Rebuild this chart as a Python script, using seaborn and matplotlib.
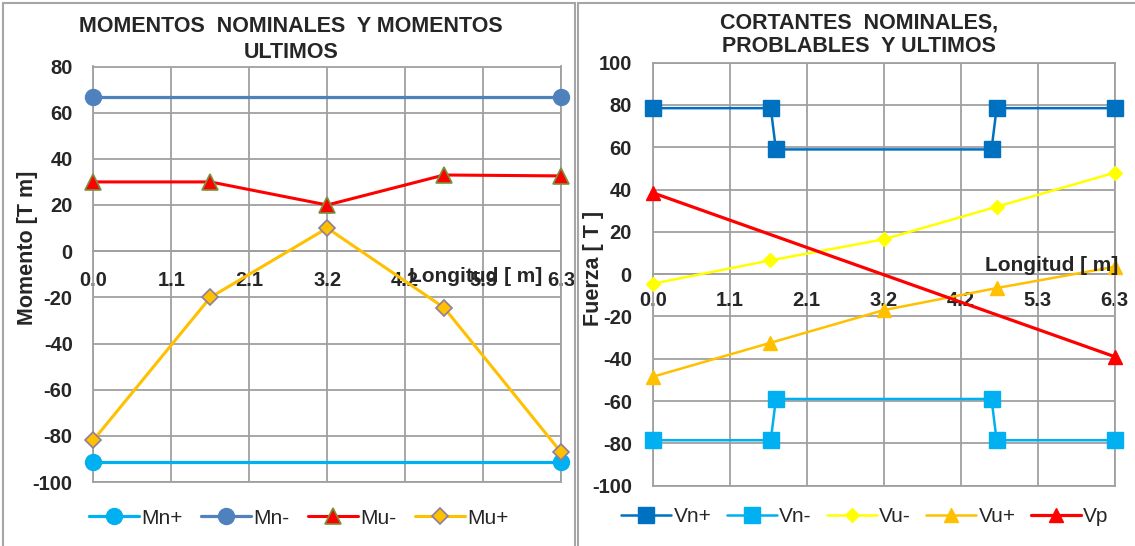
import numpy as np
import pandas as pd
import matplotlib
matplotlib.use("Agg")
import matplotlib.pyplot as plt
from matplotlib.patches import Rectangle
import seaborn as sns

# ---- data: moments along the beam ----
x_mom = [0.0, 1.575, 3.15, 4.725, 6.3]
x_ends = [0.0, 6.3]
mn_pos = [-91.5, -91.5]
mn_neg = [67.0, 67.0]
mu_neg = [30.0, 30.0, 20.0, 33.0, 32.6]
mu_pos = [-81.8, -20.0, 10.0, -24.5, -87.1]

# ---- data: shear forces along the beam ----
x_vn = [0.0, 1.61, 1.68, 4.62, 4.69, 6.3]
vn_pos = [78.5, 78.5, 59.0, 59.0, 78.5, 78.5]
vn_neg = [-78.5, -78.5, -59.0, -59.0, -78.5, -78.5]
x_vu = [0.0, 1.6, 3.15, 4.7, 6.3]
vu_neg = [-4.5, 6.5, 16.5, 32.0, 48.0]
vu_pos = [-48.5, -32.5, -17.0, -6.5, 3.5]
vp = [38.5, -39.0]

x_ticks = [0.0, 1.05, 2.1, 3.15, 4.2, 5.25, 6.3]
x_tick_labels = ["0.0", "1.1", "2.1", "3.2", "4.2", "5.3", "6.3"]

sns.set_style("white")
plt.rcParams["font.family"] = ["Liberation Sans", "DejaVu Sans"]

W, H = 1135, 546
fig = plt.figure(figsize=(W / 100, H / 100), dpi=100)

GRID = "#A0A0A0"
FS = 14.5


def frame(x0, y0, x1, y1):
    fig.patches.append(Rectangle((x0 / W, 1 - y1 / H), (x1 - x0) / W, (y1 - y0) / H,
                                 transform=fig.transFigure, fill=False,
                                 edgecolor="#A6A6A6", lw=1.5))


frame(3, 3, 575, 560)
frame(578, 3, 1150, 560)


def style_axes(ax, ylim, yticks, xpad):
    # move the x axis to y = 0 first: this resets the tick formatting
    ax.spines["bottom"].set_position(("data", 0))
    ax.spines["bottom"].set_color(GRID)
    ax.spines["bottom"].set_linewidth(1.3)
    ax.set_xlim(0, 6.3)
    ax.set_ylim(*ylim)
    ax.set_xticks(x_ticks)
    ax.set_xticklabels(x_tick_labels, fontsize=FS, fontweight="bold")
    ax.set_yticks(yticks)
    ax.set_yticklabels([str(v) for v in yticks], fontsize=FS, fontweight="bold")
    ax.grid(True, color=GRID, lw=1.3)
    ax.set_axisbelow(True)
    for s in ["left", "top", "right"]:
        ax.spines[s].set_color(GRID)
        ax.spines[s].set_linewidth(1.3)
    ax.axhline(ylim[0], color=GRID, lw=1.3, clip_on=False, zorder=0.5)
    ax.tick_params(axis="x", length=0, pad=xpad)
    ax.tick_params(axis="y", length=0, pad=15)
    ax.set_xlabel("")
    ax.set_ylabel("")


def draw(ax, x, y, label, color, marker, ms, lw, mec=None, mew=1.0):
    sns.lineplot(x=x, y=y, ax=ax, sort=False, label=label, color=color, lw=lw,
                 marker=marker, markersize=ms, markerfacecolor=color,
                 markeredgecolor=mec if mec else color, markeredgewidth=mew,
                 clip_on=False, zorder=3)


# ---------------- left: moments ----------------
axL = fig.add_axes([93.5 / W, 1 - 482 / H, 467.5 / W, 415.5 / H])
draw(axL, x_ends, mn_pos, "Mn+", "#00B0F0", "o", 11.5, 2.3)
draw(axL, x_ends, mn_neg, "Mn-", "#4F81BD", "o", 11.5, 2.3)
draw(axL, x_mom, mu_neg, "Mu-", "#FF0000", "^", 11, 2.2, mec="#77933C", mew=1.2)
draw(axL, x_mom, mu_pos, "Mu+", "#FFC000", "D", 8, 2.2, mec="#8E7F9E", mew=1.2)
style_axes(axL, (-100, 80), list(range(-100, 81, 20)), 14)
axL.text(0.818, 0.4934, "Longitud [ m]", transform=axL.transAxes, ha="center",
         va="center", fontsize=FS + 0.5, fontweight="bold")
axL.legend(loc="center", bbox_to_anchor=(299 / W, 1 - 518 / H),
           bbox_transform=fig.transFigure, ncol=4, frameon=False,
           fontsize=15, handlelength=2.4, handletextpad=0.1, columnspacing=0.9)

fig.text(291 / W, 1 - 27 / H, "MOMENTOS  NOMINALES  Y MOMENTOS", ha="center",
         va="center", fontsize=15.5, fontweight="bold")
fig.text(291 / W, 1 - 52 / H, "ULTIMOS", ha="center", va="center",
         fontsize=15.5, fontweight="bold")
fig.text(28 / W, 1 - 248 / H, "Momento [T m]", rotation=90, ha="center",
         va="center", fontsize=15.5, fontweight="bold")

# ---------------- right: shear forces ----------------
axR = fig.add_axes([652.7 / W, 1 - 485.7 / H, 462 / W, 423 / H])
draw(axR, x_vn, vn_pos, "Vn+", "#0070C0", "s", 11, 1.8)
draw(axR, x_vn, vn_neg, "Vn-", "#00B0F0", "s", 11, 1.8)
draw(axR, x_vu, vu_neg, "Vu-", "#FFFF00", "D", 7, 1.8)
draw(axR, x_vu, vu_pos, "Vu+", "#FFC000", "^", 10, 1.8)
draw(axR, x_ends, vp, "Vp", "#FF0000", "^", 10, 2.3)
style_axes(axR, (-100, 100), list(range(-100, 101, 20)), 12)
axR.text(1.007, 1.5, "Longitud [ m]", transform=axR.get_yaxis_transform(),
         ha="right", va="baseline", fontsize=FS + 0.5, fontweight="bold")
axR.legend(loc="center", bbox_to_anchor=(865 / W, 1 - 517 / H),
           bbox_transform=fig.transFigure, ncol=5, frameon=False,
           fontsize=15, handlelength=2.4, handletextpad=0.1, columnspacing=0.75)

fig.text(859 / W, 1 - 23 / H, "CORTANTES  NOMINALES,", ha="center",
         va="center", fontsize=15.5, fontweight="bold")
fig.text(859 / W, 1 - 47 / H, "PROBLABLES  Y ULTIMOS", ha="center",
         va="center", fontsize=15.5, fontweight="bold")
fig.text(593 / W, 1 - 268 / H, "Fuerza [ T ]", rotation=90, ha="center",
         va="center", fontsize=15.5, fontweight="bold")

fig.savefig("out.png", dpi=100)
